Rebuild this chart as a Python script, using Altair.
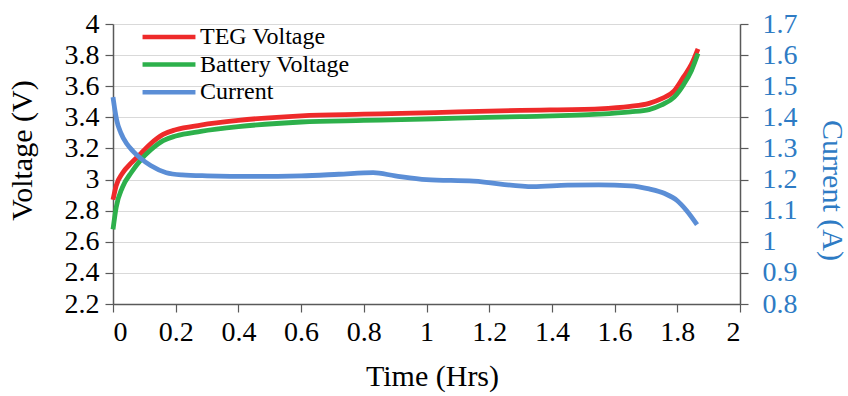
import altair as alt
import pandas as pd

# Voltage series (time in hours)
v_time = [0.0, 0.01, 0.03, 0.06, 0.09, 0.12, 0.16, 0.2, 0.28, 0.4, 0.6, 0.8, 0.92,
          1.1, 1.3, 1.55, 1.65, 1.71, 1.75, 1.79, 1.82, 1.845, 1.866]
teg_voltage = [2.87, 2.96, 3.04, 3.11, 3.17, 3.23, 3.29, 3.32, 3.35, 3.38, 3.41, 3.42, 3.425,
               3.435, 3.445, 3.455, 3.47, 3.49, 3.52, 3.57, 3.66, 3.74, 3.84]
battery_voltage = [2.68, 2.82, 2.95, 3.05, 3.13, 3.19, 3.25, 3.28, 3.31, 3.34, 3.37, 3.38, 3.385,
                   3.395, 3.405, 3.42, 3.435, 3.45, 3.48, 3.53, 3.61, 3.7, 3.81]

# Current series
c_time = [0.0, 0.005, 0.012, 0.025, 0.044, 0.065, 0.086, 0.12, 0.17, 0.22, 0.3, 0.45, 0.6,
          0.72, 0.83, 0.9, 1.0, 1.15, 1.34, 1.45, 1.55, 1.65, 1.71, 1.76, 1.8, 1.83, 1.863]
current = [1.465, 1.43, 1.39, 1.35, 1.315, 1.29, 1.27, 1.245, 1.222, 1.215, 1.212, 1.21, 1.212,
           1.217, 1.222, 1.212, 1.2, 1.195, 1.177, 1.182, 1.183, 1.18, 1.17, 1.155, 1.132, 1.1, 1.055]

series_names = ["TEG Voltage", "Battery Voltage", "Current"]
series_colors = ["#ee2a2a", "#2db04b", "#5b8ed6"]

x_ticks = [0, 0.2, 0.4, 0.6, 0.8, 1, 1.2, 1.4, 1.6, 1.8, 2]
v_ticks = [2.2, 2.4, 2.6, 2.8, 3, 3.2, 3.4, 3.6, 3.8, 4]
c_ticks = [0.8, 0.9, 1, 1.1, 1.2, 1.3, 1.4, 1.5, 1.6, 1.7]

vdf = pd.concat([
    pd.DataFrame({"t": v_time, "v": teg_voltage, "series": "TEG Voltage", "o": 0}),
    pd.DataFrame({"t": v_time, "v": battery_voltage, "series": "Battery Voltage", "o": 1}),
])
cdf = pd.DataFrame({"t": c_time, "c": current, "series": "Current"})

FONT = "'Liberation Serif', 'Times New Roman', Times, serif"
BLUE_TXT = "#2e7bc4"
AX = dict(labelFont=FONT, titleFont=FONT, labelFontSize=28, titleFontSize=30,
          titleFontWeight="normal", domainColor="#595959", domainWidth=1.5,
          tickColor="#595959", tickSize=8, tickWidth=1.2)

color = alt.Color(
    "series:N",
    scale=alt.Scale(domain=series_names, range=series_colors),
    legend=alt.Legend(
        title=None, orient="none", legendX=44, legendY=1,
        symbolType="M-5,0H5", symbolSize=112, symbolStrokeWidth=4.5,
        labelFont=FONT, labelFontSize=24, labelColor="#000000",
        rowPadding=3.6, labelOffset=19, padding=0,
    ),
)

x_enc = alt.X(
    "t:Q",
    scale=alt.Scale(domain=[0, 2], nice=False),
    axis=alt.Axis(
        values=x_ticks, format="~g", title="Time (Hrs)", grid=False,
        labelColor="#000000", titleColor="#000000", labelPadding=6,
        titleX=319, titleY=72, titleBaseline="middle", titleAlign="center", **AX,
    ),
)

volt = alt.Chart(vdf).mark_line(strokeWidth=4.8, interpolate="monotone").encode(
    x=x_enc,
    y=alt.Y(
        "v:Q",
        scale=alt.Scale(domain=[2.2, 4], nice=False, zero=False),
        axis=alt.Axis(
            values=v_ticks, format="~g", title="Voltage (V)", grid=True,
            gridColor="#d9d9d9", gridWidth=1.2,
            labelColor="#000000", titleColor="#000000", labelPadding=6,
            titleAngle=-90, titleX=-91, titleY=126, titleBaseline="middle", titleAlign="center", **AX,
        ),
    ),
    color=color,
    order="o:Q",
    detail="series:N",
)

curr = alt.Chart(cdf).mark_line(strokeWidth=4.8, interpolate="monotone").encode(
    x=alt.X("t:Q", scale=alt.Scale(domain=[0, 2], nice=False)),
    y=alt.Y(
        "c:Q",
        scale=alt.Scale(domain=[0.8, 1.7], nice=False, zero=False),
        axis=alt.Axis(
            orient="right", values=c_ticks, format="~g", title="Current (A)", grid=False,
            labelColor=BLUE_TXT, titleColor=BLUE_TXT, labelPadding=14, labelAlign="left",
            titleAngle=90, titleX=91, titleY=166, titleBaseline="middle", titleAlign="center", **AX,
        ),
    ),
    color=color,
)

chart = alt.layer(volt, curr).resolve_scale(y="independent").properties(
    width=627, height=280,
    autosize=alt.AutoSizeParams(type="none"),
    padding={"left": 113, "top": 24, "right": 108, "bottom": 92},
).configure(font=FONT).configure_view(strokeWidth=0)

chart.save("out.html", embed_options={"renderer": "svg", "actions": False})
